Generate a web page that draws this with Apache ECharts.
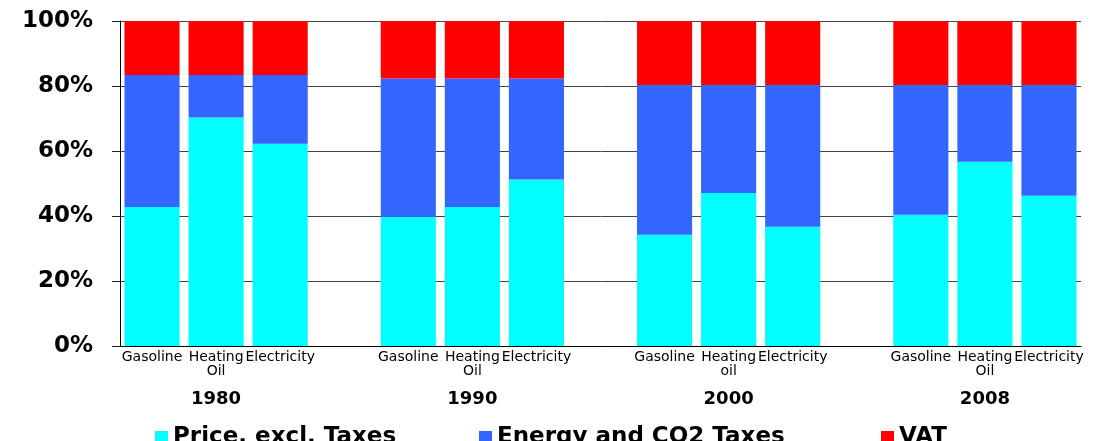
<!DOCTYPE html>
<html>
<head>
<meta charset="utf-8">
<script src="https://cdn.jsdelivr.net/npm/echarts@6/dist/echarts.min.js"></script>
<style>
  html, body {margin: 0; padding: 0; background: #fff;}
  #chart {width: 1096px; height: 441px;}
</style>
</head>
<body>
<div id="chart"></div>
<script>
// fuel types per year group, empty slot between groups
const categories = [
  'Gasoline', 'Heating\nOil', 'Electricity', '',
  'Gasoline', 'Heating\nOil', 'Electricity', '',
  'Gasoline', 'Heating\noil', 'Electricity', '',
  'Gasoline', 'Heating\nOil', 'Electricity'
];
const years = ['1980', '1990', '2000', '2008'];
const yTicks = [0, 20, 40, 60, 80, 100];

// shares in %, per year: gasoline, heating oil, electricity
const price = [42.8, 70.3, 62.2, 39.8, 42.8, 51.2, 34.2, 47.1, 36.7, 40.4, 56.7, 46.2];
const energyCO2 = [40.6, 13.1, 21.2, 42.5, 39.5, 31.1, 46.1, 33.2, 43.6, 39.9, 23.6, 34.1];
const vat = [16.6, 16.6, 16.6, 17.7, 17.7, 17.7, 19.7, 19.7, 19.7, 19.7, 19.7, 19.7];

const names = ['Price, excl. Taxes', 'Energy and CO2 Taxes', 'VAT'];
const colors = ['#00FFFF', '#3366FF', '#FF0000'];

// put an empty slot after every three bars
const withGaps = (arr) => {
  const out = [];
  arr.forEach((v, i) => {
    out.push(v);
    if (i % 3 === 2 && i < arr.length - 1) out.push('-');
  });
  return out;
};

// year label under the middle bar of each group
const yearAxis = categories.map((c, i) => (i % 4 === 1 ? years[(i - 1) / 4] : ''));

const myChart = echarts.init(document.getElementById('chart'));
const font = 'DejaVu Sans, Verdana, sans-serif';

const legendAt = (name, left) => ({
  data: [name],
  left: left,
  top: 421,
  icon: 'rect',
  itemWidth: 13,
  itemHeight: 13,
  itemGap: 0,
  textStyle: {fontFamily: font, fontWeight: 'bold', fontSize: 23, color: '#000'}
});

myChart.setOption({
  animation: false,
  color: colors,
  legend: [
    legendAt(names[0], 150),
    legendAt(names[1], 474),
    legendAt(names[2], 876)
  ],
  grid: {left: 120, right: 15, top: 21, bottom: 95},
  xAxis: [
    {
      type: 'category',
      data: categories,
      axisLine: {show: true, lineStyle: {color: '#000', width: 1}},
      axisTick: {show: false},
      axisLabel: {
        interval: 0,
        margin: 4,
        fontFamily: font,
        fontSize: 14,
        color: '#000',
        lineHeight: 14
      }
    },
    {
      type: 'category',
      position: 'bottom',
      offset: 36,
      data: yearAxis,
      axisLine: {show: false},
      axisTick: {show: false},
      axisLabel: {
        interval: 0,
        fontFamily: font,
        fontSize: 18,
        fontWeight: 'bold',
        color: '#000'
      }
    }
  ],
  yAxis: {
    type: 'value',
    min: yTicks[0],
    max: yTicks[yTicks.length - 1],
    interval: 20,
    axisLine: {show: true, lineStyle: {color: '#000', width: 1}},
    axisTick: {show: true, length: 8, lineStyle: {color: '#222'}},
    splitLine: {lineStyle: {color: '#444', width: 1}},
    axisLabel: {
      formatter: '{value}%',
      margin: 27,
      fontFamily: font,
      fontSize: 23,
      fontWeight: 'bold',
      color: '#000'
    }
  },
  series: [price, energyCO2, vat].map((arr, i) => ({
    name: names[i],
    type: 'bar',
    stack: 'total',
    barCategoryGap: '14%',
    data: withGaps(arr),
    itemStyle: {color: colors[i]}
  }))
});
</script>
</body>
</html>
